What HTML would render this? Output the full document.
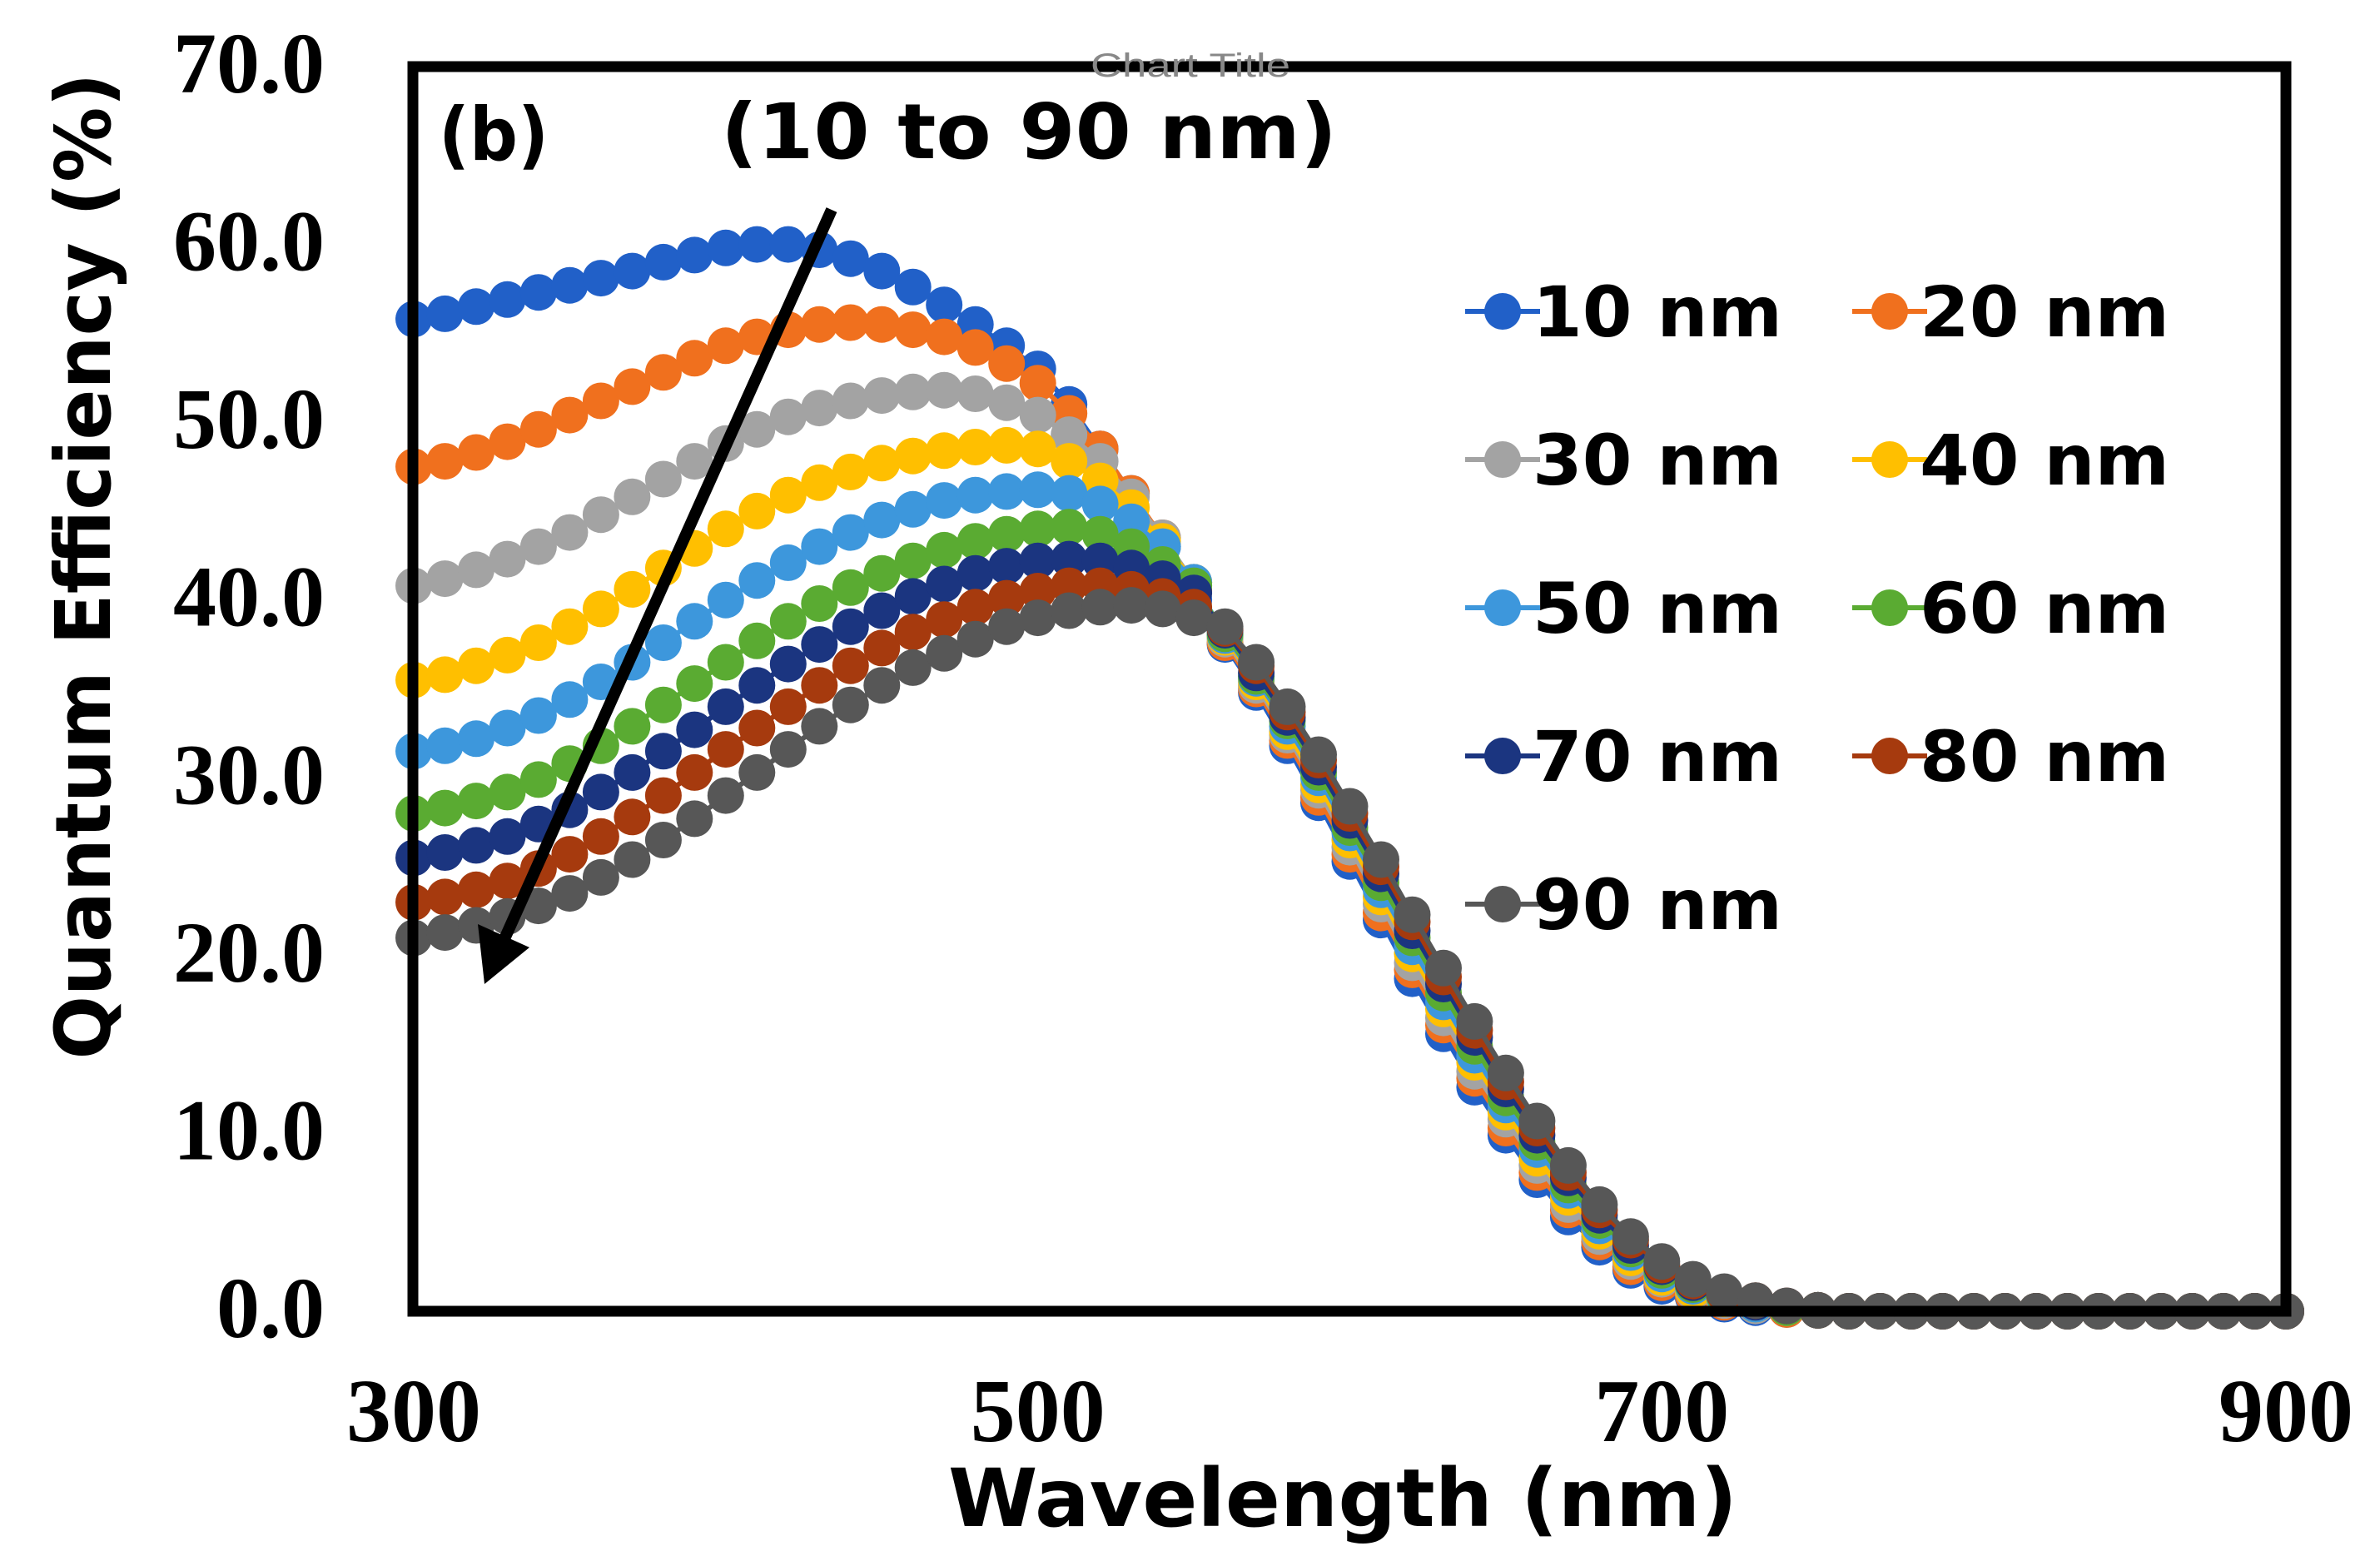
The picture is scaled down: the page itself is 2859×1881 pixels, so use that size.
<!DOCTYPE html>
<html><head><meta charset="utf-8"><style>
html,body{margin:0;padding:0;background:#fff;}
svg{display:block;}
</style></head><body>
<svg id="chart" width="2859" height="1881" viewBox="0 0 2859 1881" xmlns="http://www.w3.org/2000/svg">
<rect x="0" y="0" width="2859" height="1881" fill="#fff"/>
<g id="series-layer"></g>
<rect x="496" y="80" width="2250" height="1495" fill="none" stroke="#000" stroke-width="13"/>
<text x="1310" y="92" font-family="Liberation Sans, sans-serif" font-size="40" fill="#888" textLength="240" lengthAdjust="spacingAndGlyphs">Chart Title</text>
<text x="527" y="192" font-family="DejaVu Sans, sans-serif" font-weight="bold" font-size="88" fill="#000" textLength="132" lengthAdjust="spacingAndGlyphs">(b)</text>
<text x="866" y="190" font-family="DejaVu Sans, sans-serif" font-weight="bold" font-size="92" fill="#000" textLength="740" lengthAdjust="spacingAndGlyphs">(10 to 90 nm)</text>
<g id="axes-layer"></g>
<g id="legend-layer"></g>
<text transform="translate(132,680) rotate(-90)" font-family="DejaVu Sans, sans-serif" font-weight="bold" font-size="92" fill="#000" text-anchor="middle" textLength="1185" lengthAdjust="spacingAndGlyphs">Quantum Efficiency (%)</text>
<text x="1139" y="1833" font-family="DejaVu Sans, sans-serif" font-weight="bold" font-size="96" fill="#000" textLength="948" lengthAdjust="spacingAndGlyphs">Wavelength (nm)</text>
<line x1="999" y1="252" x2="605" y2="1130" stroke="#000" stroke-width="14"/>
<polygon points="582,1182 574,1110 636,1138" fill="#000"/>
</svg>
<script>
const wavelengthsStart = 300, wavelengthsStep = 10;
const farTail = [0.05,0,0,0,0,0,0,0,0,0,0,0,0,0,0,0];
const s10 = [55.8,56.1,56.5,56.9,57.3,57.7,58.1,58.5,59,59.4,59.8,60,60,59.7,59.2,58.5,57.6,56.6,55.5,54.3,53,51,48.5,46,43,40,
 37.5,34.8,31.8,28.6,25.3,22,18.7,15.6,12.6,9.9,7.4,5.3,3.6,2.3,1.4,0.8,0.4,0.2,0.1];
const s20 = [47.5,47.8,48.3,48.9,49.6,50.4,51.2,52,52.8,53.6,54.3,54.8,55.2,55.5,55.6,55.5,55.2,54.8,54.2,53.3,52.2,50.5,48.5,46,43.5,40.5,
 37.6,35.0,32.1,28.9,25.7,22.4,19.2,16.1,13.1,10.3,7.8,5.7,3.9,2.5,1.6,0.9,0.5,0.3,0.1];
const s30 = [40.8,41.2,41.7,42.3,43,43.8,44.8,45.8,46.8,47.8,48.8,49.6,50.3,50.8,51.2,51.5,51.7,51.8,51.6,51.1,50.4,49.3,47.8,45.8,43.5,41,
 37.8,35.2,32.4,29.3,26.1,22.9,19.6,16.5,13.5,10.8,8.2,6.0,4.2,2.8,1.8,1.1,0.6,0.3,0.2];
const s40 = [35.5,35.8,36.3,36.9,37.6,38.5,39.5,40.6,41.8,42.9,44,45,45.9,46.6,47.2,47.7,48.1,48.4,48.6,48.7,48.5,47.8,46.7,45.2,43.3,41,
 37.9,35.4,32.6,29.6,26.5,23.3,20.1,17.0,14.0,11.2,8.6,6.4,4.5,3.0,1.9,1.2,0.7,0.4,0.2];
const s50 = [31.5,31.8,32.2,32.8,33.5,34.4,35.4,36.5,37.6,38.8,40,41.1,42.1,43,43.8,44.5,45.1,45.6,45.9,46.1,46.2,46,45.4,44.4,43,41,
 38.0,35.6,32.9,30.0,26.9,23.7,20.5,17.4,14.4,11.6,9.1,6.8,4.8,3.3,2.1,1.4,0.8,0.4,0.2];
const s60 = [28,28.3,28.7,29.2,29.9,30.8,31.8,32.9,34.1,35.3,36.5,37.7,38.8,39.8,40.7,41.5,42.2,42.8,43.3,43.7,44,44.1,43.7,43,42,40.8,
 38.1,35.7,33.2,30.3,27.2,24.1,21.0,17.9,14.9,12.0,9.5,7.1,5.1,3.5,2.3,1.5,0.9,0.5,0.2];
const s70 = [25.5,25.8,26.2,26.7,27.4,28.2,29.2,30.3,31.5,32.7,34,35.2,36.4,37.5,38.5,39.4,40.2,40.9,41.5,41.9,42.2,42.3,42.2,41.8,41.2,40.4,
 38.3,35.9,33.4,30.6,27.6,24.6,21.4,18.4,15.4,12.5,9.9,7.5,5.4,3.7,2.5,1.6,1.0,0.5,0.3];
const s80 = [23,23.3,23.7,24.2,24.9,25.7,26.7,27.8,29,30.3,31.6,32.8,34,35.2,36.3,37.3,38.2,38.9,39.6,40.1,40.5,40.8,40.8,40.6,40.2,39.6,
 38.4,36.3,33.7,31.0,28.0,25.0,21.9,18.8,15.8,12.9,10.3,7.8,5.7,4.0,2.6,1.7,1.0,0.6,0.3];
const s90 = [21,21.3,21.7,22.2,22.8,23.5,24.4,25.4,26.5,27.7,29,30.3,31.6,32.9,34.1,35.2,36.2,37,37.8,38.5,39,39.4,39.6,39.7,39.5,39,
 38.5,36.5,34,31.3,28.4,25.4,22.3,19.3,16.3,13.4,10.7,8.2,6,4.2,2.8,1.8,1.1,0.6,0.3];
const seriesNames = ["10 nm","20 nm","30 nm","40 nm","50 nm","60 nm","70 nm","80 nm","90 nm"];
const seriesValues = [s10,s20,s30,s40,s50,s60,s70,s80,s90];
const seriesColors = ["#2160c8","#f0701e","#a3a3a3","#ffbf00","#3d97dc","#5aab32","#1b3580","#a63a0e","#575757"];
const yTicks = [0,10,20,30,40,50,60,70];
const yTickLabels = ["0.0","10.0","20.0","30.0","40.0","50.0","60.0","70.0"];
const xTicks = [300,500,700,900];
const xTickLabels = ["300","500","700","900"];

const NS = "http://www.w3.org/2000/svg";
const X0 = 497, X1 = 2746, Y0 = 1575, Y1 = 80;
function xs(v){ return X0 + (v - 300) / 600 * (X1 - X0); }
function ys(v){ return Y0 - v / 70 * (Y0 - Y1); }
function mk(tag, attrs){ const e = document.createElementNS(NS, tag); for (const k in attrs) e.setAttribute(k, attrs[k]); return e; }

const seriesLayer = document.getElementById("series-layer");
seriesValues.forEach((vals, si) => {
  const full = vals.concat(farTail);
  const g = mk("g", {});
  
  
  let d = "";
  full.forEach((v, i) => { const wl = wavelengthsStart + i * wavelengthsStep; d += (i ? "L" : "M") + xs(wl).toFixed(1) + "," + ys(v).toFixed(1); });
  const path = mk("path", {d: d, fill: "none", stroke: seriesColors[si], "stroke-width": 6});
  
  
  g.appendChild(path);
  full.forEach((v, i) => {
    const wl = wavelengthsStart + i * wavelengthsStep;
    const c = mk("circle", {cx: xs(wl).toFixed(1), cy: ys(v).toFixed(1), r: 22, fill: seriesColors[si]});
    
    
    g.appendChild(c);
  });
  seriesLayer.appendChild(g);
});

const axes = document.getElementById("axes-layer");
yTicks.forEach((t, i) => {
  const tx = mk("text", {x: 390, y: (ys(t) + 31).toFixed(1), "font-family": "Liberation Serif, serif", "font-weight": "bold", "font-size": 104, "text-anchor": "end", fill: "#000"});
  
  
  tx.textContent = yTickLabels[i];
  axes.appendChild(tx);
});
xTicks.forEach((t, i) => {
  const tx = mk("text", {x: xs(t).toFixed(1), y: 1731, "font-family": "Liberation Serif, serif", "font-weight": "bold", "font-size": 108, "text-anchor": "middle", fill: "#000"});
  
  
  tx.textContent = xTickLabels[i];
  axes.appendChild(tx);
});

const legend = document.getElementById("legend-layer");
seriesNames.forEach((name, i) => {
  const col = i % 2, row = Math.floor(i / 2);
  const mx = col ? 2270 : 1805, cy = 374 + row * 178;
  const g = mk("g", {});
  
  
  g.appendChild(mk("line", {x1: mx - 45, y1: cy, x2: mx + 45, y2: cy, stroke: seriesColors[i], "stroke-width": 6}));
  g.appendChild(mk("circle", {cx: mx, cy: cy, r: 22, fill: seriesColors[i]}));
  const tx = mk("text", {x: mx + 36, y: cy + 30, "font-family": "DejaVu Sans, sans-serif", "font-weight": "bold", "font-size": 84, fill: "#000", textLength: 300, lengthAdjust: "spacingAndGlyphs"});
  tx.textContent = name;
  g.appendChild(tx);
  legend.appendChild(g);
});
</script>
</body></html>
